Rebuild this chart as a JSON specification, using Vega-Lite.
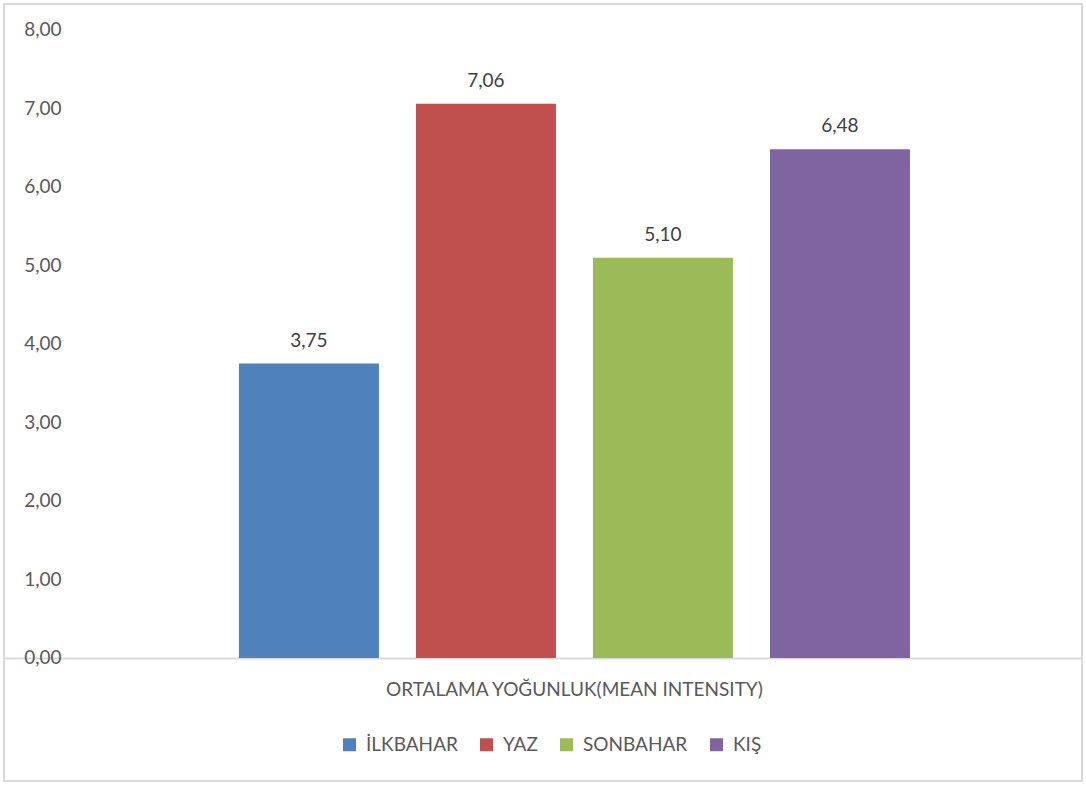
{
  "$schema": "https://vega.github.io/schema/vega-lite/v6.json",
  "width": 1078,
  "height": 777,
  "autosize": {"type": "none"},
  "padding": {"left": 4, "top": 4, "right": 4, "bottom": 4},
  "background": "white",
  "config": {
    "view": {"stroke": "#d9d9d9", "strokeWidth": 2},
    "font": "Lato",
    "locale": {
      "number": {"decimal": ",", "thousands": ".", "grouping": [3], "currency": ["", " TL"]}
    }
  },
  "data": {
    "values": [
      {"kategori": "ORTALAMA YOĞUNLUK(MEAN INTENSITY)", "mevsim": "İLKBAHAR", "deger": 3.75},
      {"kategori": "ORTALAMA YOĞUNLUK(MEAN INTENSITY)", "mevsim": "YAZ", "deger": 7.06},
      {"kategori": "ORTALAMA YOĞUNLUK(MEAN INTENSITY)", "mevsim": "SONBAHAR", "deger": 5.10},
      {"kategori": "ORTALAMA YOĞUNLUK(MEAN INTENSITY)", "mevsim": "KIŞ", "deger": 6.48}
    ]
  },
  "encoding": {
    "x": {
      "field": "kategori",
      "type": "nominal",
      "scale": {"paddingInner": 0, "paddingOuter": 0.2613, "align": 0.585},
      "axis": {
        "title": null,
        "orient": "bottom",
        "offset": -123,
        "domainColor": "#d9d9d9",
        "domainWidth": 2,
        "ticks": false,
        "labelAngle": 0,
        "labelLimit": 0,
        "labelFontSize": 19,
        "labelColor": "#595959",
        "labelPadding": 22
      }
    },
    "xOffset": {
      "field": "mevsim",
      "type": "nominal",
      "sort": ["İLKBAHAR", "YAZ", "SONBAHAR", "KIŞ"],
      "scale": {"paddingInner": 0.209, "paddingOuter": 0.1045}
    },
    "y": {
      "field": "deger",
      "type": "quantitative",
      "stack": null,
      "scale": {"domain": [-1.567, 8.331], "nice": false, "zero": false},
      "axis": {
        "title": null,
        "offset": -83,
        "values": [0, 1, 2, 3, 4, 5, 6, 7, 8],
        "format": ".2f",
        "domain": false,
        "ticks": false,
        "grid": false,
        "labelFontSize": 19,
        "labelColor": "#595959",
        "labelPadding": 26
      }
    }
  },
  "layer": [
    {
      "mark": {"type": "bar"},
      "encoding": {
        "color": {
          "field": "mevsim",
          "type": "nominal",
          "sort": ["İLKBAHAR", "YAZ", "SONBAHAR", "KIŞ"],
          "scale": {
            "domain": ["İLKBAHAR", "YAZ", "SONBAHAR", "KIŞ"],
            "range": ["#4F81BD", "#C0504D", "#9BBB59", "#8064A2"]
          },
          "legend": {
            "title": null,
            "orient": "none",
            "direction": "horizontal",
            "legendX": 336,
            "legendY": 731,
            "symbolType": "square",
            "symbolSize": 169,
            "symbolStrokeWidth": 0,
            "symbolOpacity": 1,
            "labelFontSize": 19,
            "labelColor": "#595959",
            "labelOffset": 7,
            "columnPadding": 19
          }
        }
      }
    },
    {
      "mark": {"type": "text", "baseline": "bottom", "dy": -13, "fontSize": 19, "color": "#404040"},
      "encoding": {
        "text": {"field": "deger", "type": "quantitative", "format": ".2f"}
      }
    }
  ]
}
